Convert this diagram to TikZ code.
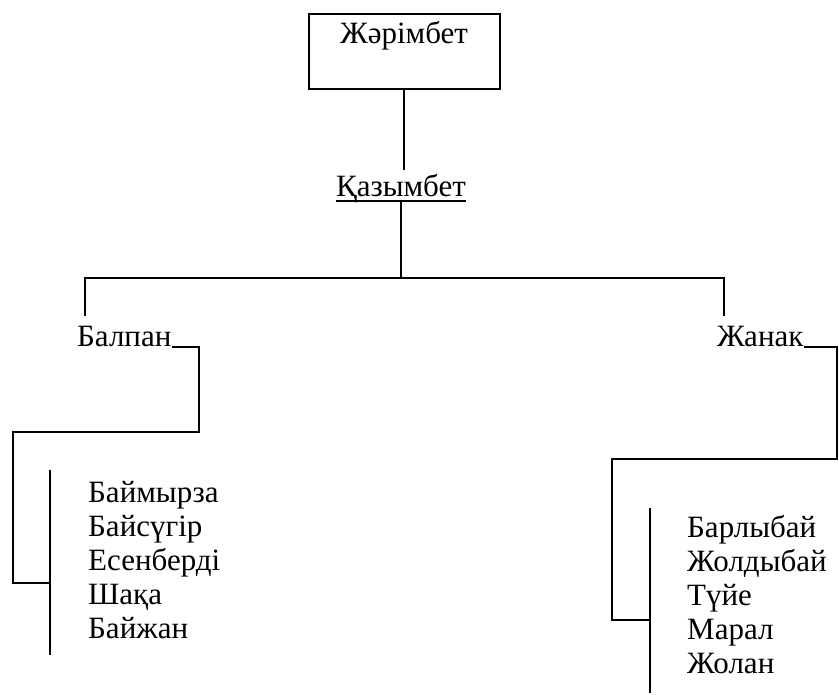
\documentclass[tikz,border=0pt]{standalone}
\usepackage{fontspec}
\setmainfont{Liberation Serif}
\usetikzlibrary{positioning,calc}

\tikzset{
	kin/.style={inner sep=0pt, font=\fontsize{31}{34}\selectfont},
	link/.style={line width=2pt},
}

\begin{document}
\begin{tikzpicture}[x=1pt,y=-1pt]
	\useasboundingbox (0,0) rectangle (839,695);
	% root and second generation
	\node[kin, draw, link, anchor=base, minimum width=191pt, text height=20pt, text depth=35pt, inner ysep=10pt] (root) at (404,44) {Жәрімбет};
	\node[kin, anchor=base] (kaz) at (401,197) {Қазымбет};
	\draw[link] (root.south) -- ++(0,80);
	\draw[link] ($(kaz.base west)+(0,4)$) -- coordinate (kazmid) ($(kaz.base east)+(0,4)$);
	% sons
	\node[kin, anchor=base west] (balpan) at (77,347) {Балпан};
	\node[kin, anchor=base west] (zhanak) at (717,347) {Жанак};
	\coordinate (fork) at (kazmid |- 0,278);
	\draw[link] (kazmid) -- (fork);
	\draw[link] ($(balpan.north west)+(8,-11)$) |- (fork) -| ($(zhanak.north west)+(7,-11)$);
	% grandsons
	\foreach \n [count=\i] in {Баймырза,Байсүгір,Есенберді,Шақа,Байжан}
		\node[kin, anchor=base west] (l\i) at (88,{468+34*\i}) {\n};
	\foreach \n [count=\i] in {Барлыбай,Жолдыбай,Түйе,Марал,Жолан}
		\node[kin, anchor=base west] (r\i) at (687,{503+34*\i}) {\n};
	\coordinate (lturn) at (199,432);
	\coordinate (lstub) at (50,583);
	\coordinate (rturn) at (837,459);
	\coordinate (rstub) at (650,620);
	\draw[link] (balpan.base east) -| (lturn) -| ($(lstub)+(-37,0)$) -- (lstub);
	\draw[link] (zhanak.base east) -| (rturn) -| ($(rstub)+(-38,0)$) -- (rstub);
	\draw[link] ($(l1.base west)+(-38,-32)$) -- ($(l5.base west)+(-38,17)$);
	\draw[link] ($(r1.base west)+(-37,-29)$) -- ($(r5.base west)+(-37,20)$);
\end{tikzpicture}
\end{document}
